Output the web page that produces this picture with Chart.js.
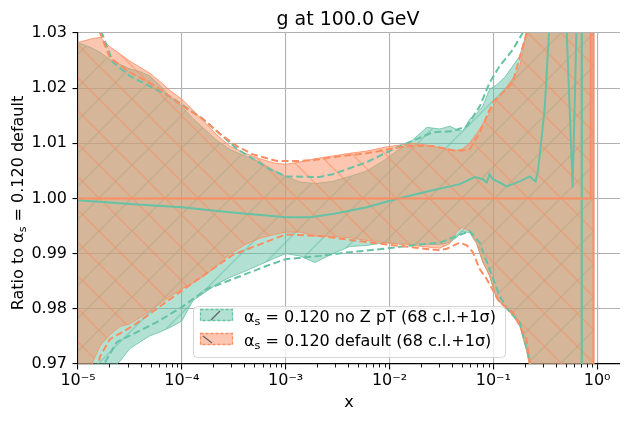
<!DOCTYPE html>
<html><head><meta charset="utf-8">
<script src="https://cdn.jsdelivr.net/npm/chart.js@4.4.1/dist/chart.umd.min.js"></script>
<style>html,body{margin:0;padding:0;background:#fff;overflow:hidden}canvas{display:block}</style>
</head><body>
<canvas id="c" width="630" height="422"></canvas>
<script>
// ---------------- data ----------------
const titleText = 'g at 100.0 GeV';
const xLabelText = 'x';
const legendLabels = ['no Z pT (68 c.l.+1σ)', 'default (68 c.l.+1σ)'];
const alphaValue = '0.120';

const bandX = [1e-5,1.39e-5,1.63e-5,2.03e-5,2.54e-5,3.16e-5,3.95e-5,4.93e-5,6.15e-5,7.67e-5,
  1.0e-4,1.28e-4,1.67e-4,2.18e-4,2.90e-4,4.05e-4,5.65e-4,7.87e-4,1.0e-3,1.37e-3,
  1.91e-3,2.84e-3,4.15e-3,6.05e-3,9.0e-3,1.26e-2,1.67e-2,2.29e-2,3.05e-2,3.80e-2,
  4.45e-2,5.07e-2,5.93e-2,6.92e-2,7.91e-2,9.2e-2,0.108,0.129,0.154,0.179,
  0.209,0.251,0.313,0.436,0.679,0.925];
const tealUpper = [1.0283,1.0272,1.0265,1.0252,1.0243,1.0235,1.0230,1.0222,1.0205,1.0185,
  1.0167,1.0145,1.0125,1.0105,1.0089,1.0077,1.0066,1.0050,1.0040,1.0030,
  1.0027,1.0031,1.0040,1.0050,1.0070,1.0090,1.0106,1.0129,1.0126,1.0131,
  1.0125,1.0122,1.0144,1.0155,1.0167,1.0198,1.0206,1.0220,1.0240,1.0258,
  1.0300,1.036,1.05,1.06,1.06,1.06];
const tealLower = [0.955,0.962,0.966,0.969,0.9705,0.9728,0.9740,0.9751,0.9758,0.9766,
  0.9778,0.9815,0.9830,0.9845,0.9857,0.9868,0.9880,0.9892,0.9900,0.9896,
  0.9884,0.9900,0.9913,0.9915,0.9920,0.9918,0.9917,0.9917,0.9917,0.9920,
  0.9930,0.9940,0.9938,0.9918,0.9885,0.9860,0.9818,0.9803,0.9790,0.9772,
  0.9725,0.965,0.95,0.94,0.94,0.94];
const defUpper = [1.0283,1.0290,1.0292,1.0275,1.0262,1.0249,1.0238,1.0227,1.0212,1.0196,
  1.0180,1.0160,1.0138,1.0115,1.0095,1.0082,1.0072,1.0064,1.0062,1.0066,
  1.0072,1.0077,1.0082,1.0086,1.0093,1.0097,1.0100,1.0097,1.0092,1.0089,
  1.0087,1.0090,1.0101,1.0118,1.0135,1.0155,1.0178,1.0198,1.0218,1.0238,
  1.0300,1.036,1.05,1.06,1.06,1.06];
const defLower = [0.955,0.9704,0.9733,0.9753,0.9768,0.9773,0.9784,0.9796,0.9809,0.9822,
  0.9836,0.9847,0.9861,0.9878,0.9899,0.9916,0.9928,0.9935,0.9939,0.9939,
  0.9932,0.9931,0.9929,0.9924,0.9920,0.9917,0.9915,0.9912,0.9910,0.9918,
  0.9940,0.9948,0.9940,0.9918,0.9885,0.9860,0.9818,0.9803,0.9788,0.9770,
  0.9725,0.965,0.95,0.94,0.94,0.94];

const tealCentralX = [1e-5,3.16e-5,1e-4,2.90e-4,1e-3,1.71e-3,2.84e-3,6.05e-3,1.01e-2,1.57e-2,
  2.61e-2,4.75e-2,6.62e-2,7.91e-2,8.63e-2,9.2e-2,9.9e-2,0.115,0.135,0.154,
  0.179,0.224,0.256,0.267,0.279,0.313,0.333,0.349,0.399,0.498,
  0.581,0.635,0.679,0.708,0.712];
const tealCentral = [0.9997,0.9990,0.9984,0.9975,0.9966,0.9966,0.9972,0.9984,0.9996,1.0005,
  1.0015,1.0026,1.0039,1.0035,1.0029,1.0044,1.0035,1.0029,1.0022,1.0026,
  1.0031,1.0040,1.0031,1.0047,1.0075,1.0165,1.0256,1.032,1.05,1.035,
  1.002,1.032,1.05,1.06,0.90];
const defCentralX = [1e-5,0.866,0.866,0.924,0.924];
const defCentral = [1.0,1.0,1.08,1.08,0.92];

const tealDashUpX = [1e-5,1.39e-5,1.70e-5,2.17e-5,3.16e-5,7.67e-5,1.60e-4,3.39e-4,7.05e-4,1.02e-3,
  2.13e-3,2.84e-3,6.05e-3,1.26e-2,2.61e-2,4.06e-2,5.55e-2,7.40e-2,9.2e-2,0.115,
  0.154,0.192,0.279,0.925];
const tealDashUp = [1.045,1.035,1.030,1.0247,1.0222,1.0185,1.0144,1.0090,1.0053,1.0040,
  1.0039,1.0044,1.0066,1.0095,1.0120,1.0122,1.0131,1.0167,1.0210,1.0240,
  1.0270,1.0300,1.05,1.06];
const tealDashLoX = [1e-5,1.74e-5,2.37e-5,3.38e-5,5.75e-5,1e-4,1.75e-4,3.10e-4,6.59e-4,1e-3,
  2.13e-3,3.88e-3,8.07e-3,1.67e-2,3.05e-2,4.45e-2,5.55e-2,5.93e-2,6.92e-2,7.40e-2,
  9.2e-2,0.115,0.144,0.179,0.224,0.279,0.925];
const tealDashLo = [0.95,0.9697,0.9740,0.9754,0.9776,0.9803,0.9836,0.9854,0.9878,0.9890,
  0.9896,0.9902,0.9908,0.9915,0.9920,0.9932,0.9939,0.9941,0.9926,0.9920,
  0.9872,0.9823,0.9794,0.9776,0.9708,0.95,0.94];
const defDashUpX = [1e-5,1.39e-5,1.63e-5,2.03e-5,3.16e-5,5.75e-5,9.6e-5,1.60e-4,2.33e-4,3.39e-4,
  4.83e-4,8.22e-4,1.37e-3,2.13e-3,2.84e-3,6.05e-3,1.26e-2,1.67e-2,2.61e-2,4.45e-2,
  5.93e-2,7.40e-2,9.9e-2,0.154,0.209,0.279,0.925];
const defDashUp = [1.045,1.034,1.030,1.0255,1.0229,1.0202,1.0171,1.0144,1.0117,1.0095,
  1.0080,1.0068,1.0068,1.0071,1.0075,1.0082,1.0093,1.0095,1.0095,1.0086,
  1.0089,1.0120,1.0174,1.0210,1.0300,1.05,1.06];
const defDashLoX = [1e-5,1.39e-5,1.63e-5,2.03e-5,3.38e-5,1e-4,3.10e-4,1e-3,2.13e-3,8.07e-3,
  3.05e-2,3.56e-2,4.75e-2,5.55e-2,6.34e-2,7.40e-2,8.63e-2,0.115,0.154,0.209,
  0.224,0.279,0.925];
const defDashLo = [0.95,0.965,0.9714,0.9745,0.9769,0.9833,0.9898,0.9935,0.9932,0.9918,
  0.9906,0.9909,0.9920,0.9915,0.9903,0.9872,0.9854,0.9812,0.9794,0.9745,
  0.9705,0.95,0.94];

const xMajorTicks = [1e-5,1e-4,1e-3,1e-2,1e-1,1];
const xTickLabels = ['10⁻⁵','10⁻⁴','10⁻³','10⁻²','10⁻¹','10⁰'];
const yTicks = [0.97,0.98,0.99,1.00,1.01,1.02,1.03];
const yTickLabels = ['0.97','0.98','0.99','1.00','1.01','1.02','1.03'];
const X_MIN = 1e-5, X_MAX = 1.66, Y_MIN = 0.97, Y_MAX = 1.03;

// ---------------- styling ----------------
const TEAL = '102,194,165', ORANGE = '252,141,98';
const FONT = "'DejaVu Sans', sans-serif";

function pts(xs, ys) { return xs.map((x, i) => ({x: x, y: ys[i]})); }

function hatch(rgb, dir) {
  const s = 33;
  const c = document.createElement('canvas'); c.width = s; c.height = s;
  const g = c.getContext('2d');
  g.fillStyle = 'rgba(' + rgb + ',0.5)'; g.fillRect(0, 0, s, s);
  g.strokeStyle = 'rgba(' + rgb + ',0.5)'; g.lineWidth = 1.5;
  g.beginPath();
  if (dir === '/') {
    g.moveTo(-2, s + 2); g.lineTo(s + 2, -2);
    g.moveTo(-2, 2); g.lineTo(2, -2);
    g.moveTo(s - 2, s + 2); g.lineTo(s + 2, s - 2);
  } else {
    g.moveTo(-2, -2); g.lineTo(s + 2, s + 2);
    g.moveTo(s - 2, -2); g.lineTo(s + 2, 2);
    g.moveTo(-2, s - 2); g.lineTo(2, s + 2);
  }
  g.stroke();
  return g.createPattern(c, 'repeat');
}

const xMinorTicks = [];
xMajorTicks.forEach(m => { for (let k = 2; k <= 9; k++) { const v = m * k; if (v < X_MAX) xMinorTicks.push(v); } });
const xAllTicks = xMajorTicks.concat(xMinorTicks).sort((a, b) => a - b);
function majorIndex(v) { return xMajorTicks.findIndex(m => Math.abs(v / m - 1) < 1e-6); }

const common = {pointRadius: 0, tension: 0, clip: 0};
const datasets = [
  Object.assign({data: pts(bandX, tealUpper), fill: '+1', backgroundColor: hatch(TEAL, '/'),
    borderColor: 'rgba(' + TEAL + ',0.8)', borderWidth: 1, order: 10}, common),
  Object.assign({data: pts(bandX, tealLower), fill: false,
    borderColor: 'rgba(' + TEAL + ',0.8)', borderWidth: 1, order: 9}, common),
  Object.assign({data: pts(bandX, defUpper), fill: '+1', backgroundColor: hatch(ORANGE, '\\'),
    borderColor: 'rgba(' + ORANGE + ',0.8)', borderWidth: 1, order: 8}, common),
  Object.assign({data: pts(bandX, defLower), fill: false,
    borderColor: 'rgba(' + ORANGE + ',0.8)', borderWidth: 1, order: 7}, common),
  Object.assign({data: pts(tealDashUpX, tealDashUp), fill: false, borderColor: 'rgb(' + TEAL + ')',
    borderWidth: 2, borderDash: [7, 3.5], order: 5}, common),
  Object.assign({data: pts(tealDashLoX, tealDashLo), fill: false, borderColor: 'rgb(' + TEAL + ')',
    borderWidth: 2, borderDash: [7, 3.5], order: 5}, common),
  Object.assign({data: pts(defDashUpX, defDashUp), fill: false, borderColor: 'rgb(' + ORANGE + ')',
    borderWidth: 2, borderDash: [7, 3.5], order: 4}, common),
  Object.assign({data: pts(defDashLoX, defDashLo), fill: false, borderColor: 'rgb(' + ORANGE + ')',
    borderWidth: 2, borderDash: [7, 3.5], order: 4}, common),
  Object.assign({data: pts(tealCentralX, tealCentral), fill: false, borderColor: 'rgb(' + TEAL + ')',
    borderWidth: 2, order: 2}, common),
  Object.assign({data: pts(defCentralX, defCentral), fill: false, borderColor: 'rgb(' + ORANGE + ')',
    borderWidth: 2, order: 1}, common)
];

function drawMixed(ctx, parts, x, y, size, align) {
  const widths = parts.map(p => {
    ctx.font = (p[1] ? size * 0.7 : size) + 'px ' + FONT;
    return ctx.measureText(p[0]).width;
  });
  const total = widths.reduce((a, b) => a + b, 0);
  let cx = align === 'center' ? x - total / 2 : x;
  ctx.textAlign = 'left'; ctx.textBaseline = 'alphabetic';
  parts.forEach((p, i) => {
    ctx.font = (p[1] ? size * 0.7 : size) + 'px ' + FONT;
    ctx.fillText(p[0], cx, p[1] ? y + size * 0.2 : y);
    cx += widths[i];
  });
}

function roundRect(ctx, x, y, w, h, r) {
  ctx.beginPath();
  ctx.moveTo(x + r, y); ctx.lineTo(x + w - r, y); ctx.arcTo(x + w, y, x + w, y + r, r);
  ctx.lineTo(x + w, y + h - r); ctx.arcTo(x + w, y + h, x + w - r, y + h, r);
  ctx.lineTo(x + r, y + h); ctx.arcTo(x, y + h, x, y + h - r, r);
  ctx.lineTo(x, y + r); ctx.arcTo(x, y, x + r, y, r); ctx.closePath();
}

const overlay = {
  id: 'overlay',
  afterDraw(chart) {
    const ctx = chart.ctx, xs = chart.scales.x, area = chart.chartArea;
    ctx.save();
    // minor ticks
    ctx.strokeStyle = '#000'; ctx.lineWidth = 0.9;
    xMinorTicks.forEach(v => {
      const px = Math.round(xs.getPixelForValue(v)) + 0.5;
      ctx.beginPath(); ctx.moveTo(px, area.bottom); ctx.lineTo(px, area.bottom + 3.5); ctx.stroke();
    });
    ctx.fillStyle = '#000';
    // title
    ctx.font = '19px ' + FONT; ctx.textAlign = 'center'; ctx.textBaseline = 'alphabetic';
    ctx.fillText(titleText, (area.left + area.right) / 2 - 1, 25);
    // x label
    ctx.font = '16px ' + FONT;
    ctx.fillText(xLabelText, (area.left + area.right) / 2, 407);
    // y label
    ctx.save();
    ctx.translate(23, 203); ctx.rotate(-Math.PI / 2);
    drawMixed(ctx, [['Ratio to α', false], ['s', true], [' = ' + alphaValue + ' default', false]], 0, 0, 16, 'center');
    ctx.restore();
    // legend
    roundRect(ctx, 193.5, 306.5, 312, 51, 4);
    ctx.fillStyle = 'rgba(255,255,255,0.8)'; ctx.fill();
    ctx.strokeStyle = 'rgba(204,204,204,0.8)'; ctx.lineWidth = 1; ctx.stroke();
    const rows = [[TEAL, 309, '/', 321.5], [ORANGE, 333, '\\', 346]];
    rows.forEach((r, i) => {
      ctx.fillStyle = 'rgba(' + r[0] + ',0.5)';
      ctx.fillRect(200, r[1], 33, 12);
      ctx.setLineDash([3, 2]); ctx.strokeStyle = 'rgb(' + r[0] + ')'; ctx.lineWidth = 1.3;
      ctx.strokeRect(200.5, r[1] + 0.5, 32, 11);
      ctx.setLineDash([]);
      ctx.strokeStyle = 'rgba(70,70,70,0.8)'; ctx.lineWidth = 1.2;
      ctx.beginPath();
      if (r[2] === '/') { ctx.moveTo(211, r[1] + 11); ctx.lineTo(220, r[1] + 2); }
      else { ctx.moveTo(203, r[1] + 3); ctx.lineTo(212, r[1] + 10); }
      ctx.stroke();
      ctx.fillStyle = '#000';
      drawMixed(ctx, [['α', false], ['s', true], [' = ' + alphaValue + ' ' + legendLabels[i], false]], 244, r[3], 16, 'left');
    });
    ctx.restore();
  }
};

new Chart(document.getElementById('c'), {
  type: 'line',
  data: {datasets: datasets},
  options: {
    responsive: false, animation: false,
    layout: {padding: {top: 33, right: 10, left: 0, bottom: 0}},
    plugins: {legend: {display: false}, tooltip: {enabled: false}, title: {display: false}},
    scales: {
      x: {
        type: 'logarithmic', min: X_MIN, max: X_MAX,
        afterBuildTicks: s => { s.ticks = xAllTicks.map(v => ({value: v})); },
        afterFit: s => { s.height = 58; },
        ticks: {
          autoSkip: false, maxRotation: 0, padding: 2, color: '#000',
          font: {family: FONT, size: 16},
          callback: v => { const i = majorIndex(v); return i >= 0 ? xTickLabels[i] : ''; }
        },
        grid: {
          color: c => (c.tick && majorIndex(c.tick.value) >= 0) ? '#b0b0b0' : 'rgba(0,0,0,0)',
          lineWidth: 1.1, tickLength: 5.5,
          tickColor: c => (c.tick && majorIndex(c.tick.value) >= 0) ? '#000' : 'rgba(0,0,0,0)',
          tickWidth: 1.1
        },
        border: {display: true, color: '#000', width: 1.2}
      },
      y: {
        type: 'linear', min: Y_MIN, max: Y_MAX,
        afterBuildTicks: s => { s.ticks = yTicks.map(v => ({value: v})); },
        afterFit: s => { s.width = 78; },
        ticks: {
          padding: 5.5, color: '#000', font: {family: FONT, size: 16},
          callback: (v, i) => yTickLabels[yTicks.findIndex(t => Math.abs(t - v) < 1e-9)]
        },
        grid: {color: '#b0b0b0', lineWidth: 1.1, tickLength: 5.5, tickColor: '#000', tickWidth: 1.1},
        border: {display: true, color: '#000', width: 1.2}
      }
    }
  },
  plugins: [overlay]
});
</script>
</body></html>
